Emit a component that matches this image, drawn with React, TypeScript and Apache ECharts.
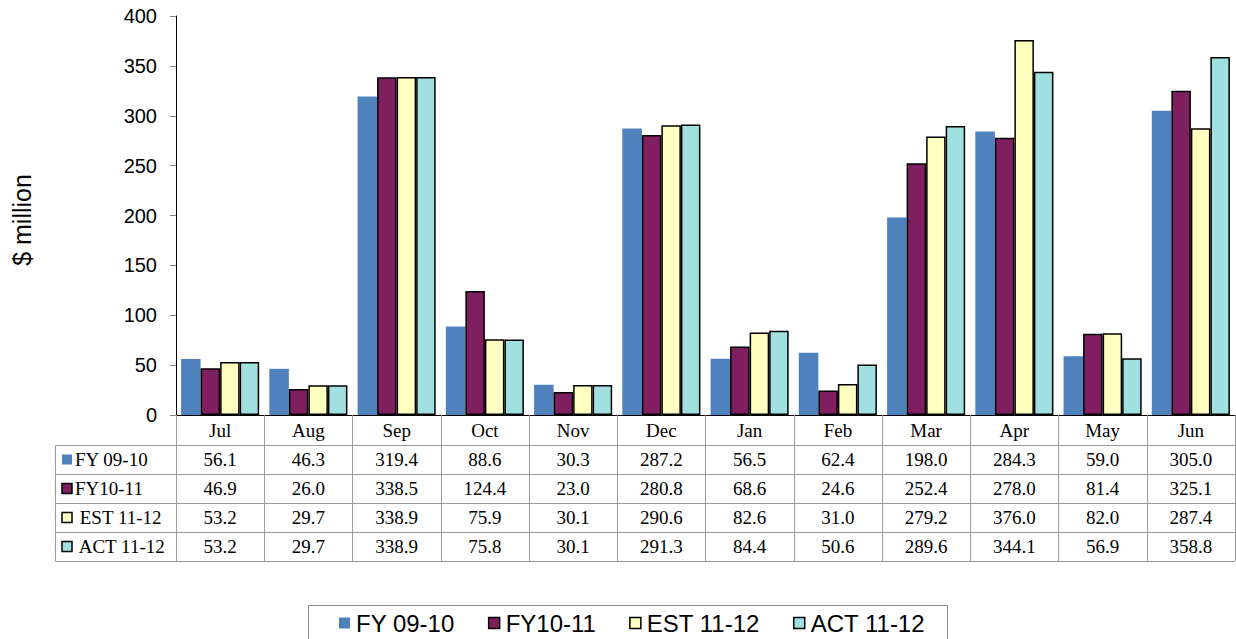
import React, { useEffect, useRef } from "react";
import * as echarts from "echarts";

const categories = ["Jul", "Aug", "Sep", "Oct", "Nov", "Dec", "Jan", "Feb", "Mar", "Apr", "May", "Jun"];
const fy0910 = [56.1, 46.3, 319.4, 88.6, 30.3, 287.2, 56.5, 62.4, 198.0, 284.3, 59.0, 305.0];
const fy1011 = [46.9, 26.0, 338.5, 124.4, 23.0, 280.8, 68.6, 24.6, 252.4, 278.0, 81.4, 325.1];
const est1112 = [53.2, 29.7, 338.9, 75.9, 30.1, 290.6, 82.6, 31.0, 279.2, 376.0, 82.0, 287.4];
const act1112 = [53.2, 29.7, 338.9, 75.8, 30.1, 291.3, 84.4, 50.6, 289.6, 344.1, 56.9, 358.8];
const seriesNames = ["FY 09-10", "FY10-11", "EST 11-12", "ACT 11-12"];
const rowLabels = ["FY 09-10", "FY10-11", " EST 11-12", " ACT 11-12"];
const seriesColors = ["#4F81BD", "#7F1F5F", "#FFFFC0", "#A0E0E0"];
const yMin = 0;
const yMax = 400;
const yInterval = 50;
const yTitle = "$ million";

const allSeries = [fy0910, fy1011, est1112, act1112];

const W = 1236;
const H = 639;
const GRID_LEFT = 176;
const GRID_TOP = 16;
const GRID_RIGHT = 1;
const GRID_BOTTOM = 224;
const TABLE_LEFT = 55.5;
const CAT_ROW_H = 30;
const ROW_H = 29;
const GRID_COLOR = "#9a9a9a";
const SERIF = "'Liberation Serif', 'Times New Roman', serif";
const SANS = "'Liberation Sans', Arial, sans-serif";
const LEGEND_BOX = { x: 308.5, y: 605.5, w: 639, h: 60 };
const LEGEND_FIRST_X = 339;
const LEGEND_LAST_END = 925;
const LEGEND_FONT = 24;
const LEGEND_ICON = 11;
const LEGEND_ICON_GAP = 6;

function measure(text: string, font: string): number {
  const c = document.createElement("canvas").getContext("2d");
  if (!c) return text.length * 12;
  c.font = font;
  return c.measureText(text).width;
}

export default function App() {
  const ref = useRef<HTMLDivElement>(null);
  useEffect(() => {
    if (!ref.current) return;
    const chart = echarts.init(ref.current, null, { renderer: "svg" });
    const option: any = {
      animation: false,
      backgroundColor: "#ffffff",
      grid: { left: GRID_LEFT, top: GRID_TOP, right: GRID_RIGHT, bottom: GRID_BOTTOM, containLabel: false },
      xAxis: {
        type: "category",
        data: categories,
        axisLine: { show: true, lineStyle: { color: "#000", width: 1 } },
        axisTick: { show: true, length: CAT_ROW_H + ROW_H * 4, interval: 0, lineStyle: { color: GRID_COLOR, width: 1 } },
        axisLabel: { fontFamily: SERIF, fontSize: 19, color: "#000", margin: 6, interval: 0 },
        splitLine: { show: false },
      },
      yAxis: {
        type: "value",
        min: yMin,
        max: yMax,
        interval: yInterval,
        axisLine: { show: true, lineStyle: { color: "#000", width: 1 } },
        axisTick: { show: true, length: 6, lineStyle: { color: "#808080" } },
        axisLabel: { fontFamily: SANS, fontSize: 20, color: "#000", margin: 19 },
        splitLine: { show: false },
      },
      series: allSeries.map((d, i) => ({
        name: seriesNames[i],
        type: "bar",
        data: d,
        barGap: "0%",
        barCategoryGap: "11.5%",
        itemStyle: {
          color: seriesColors[i],
          borderColor: i === 0 ? seriesColors[i] : "#000",
          borderWidth: i === 0 ? 0 : 1.5,
        },
      })),
    };
    chart.setOption(option);

    const yBase = chart.convertToPixel({ yAxisIndex: 0 }, 0) as number;
    const right = W - GRID_RIGHT;
    const graphics: any[] = [];
    graphics.push({
      type: "text",
      x: 22,
      y: 220,
      rotation: Math.PI / 2,
      style: { text: yTitle, fontFamily: SANS, fontSize: 25, fill: "#000", align: "center", verticalAlign: "middle" },
    });
    for (let k = 0; k <= 4; k++) {
      const y = Math.round(yBase + CAT_ROW_H + ROW_H * k) + 0.5;
      graphics.push({
        type: "line",
        shape: { x1: TABLE_LEFT, y1: y, x2: right, y2: y },
        style: { stroke: GRID_COLOR, lineWidth: 1 },
      });
    }
    graphics.push({
      type: "line",
      shape: {
        x1: TABLE_LEFT,
        y1: Math.round(yBase + CAT_ROW_H) + 0.5,
        x2: TABLE_LEFT,
        y2: Math.round(yBase + CAT_ROW_H + ROW_H * 4) + 0.5,
      },
      style: { stroke: GRID_COLOR, lineWidth: 1 },
    });
    allSeries.forEach((d, r) => {
      const cy = yBase + CAT_ROW_H + ROW_H * r + ROW_H / 2;
      graphics.push({
        type: "rect",
        shape: { x: 62, y: cy - 5, width: 10, height: 10 },
        style: {
          fill: seriesColors[r],
          stroke: r === 0 ? null : "#000",
          lineWidth: r === 0 ? 0 : 1.5,
        },
      });
      graphics.push({
        type: "text",
        x: 75,
        y: cy,
        style: { text: rowLabels[r], fontFamily: SERIF, fontSize: 19, fill: "#000", align: "left", verticalAlign: "middle" },
      });
      d.forEach((v, c) => {
        const cx = chart.convertToPixel({ xAxisIndex: 0 }, categories[c]) as number;
        graphics.push({
          type: "text",
          x: cx,
          y: cy,
          style: { text: v.toFixed(1), fontFamily: SERIF, fontSize: 19, fill: "#000", align: "center", verticalAlign: "middle" },
        });
      });
    });

    // legend box
    graphics.push({
      type: "rect",
      shape: { x: LEGEND_BOX.x, y: LEGEND_BOX.y, width: LEGEND_BOX.w, height: LEGEND_BOX.h },
      style: { fill: "#fff", stroke: "#8c8c8c", lineWidth: 1 },
    });
    const font = `${LEGEND_FONT}px 'Liberation Sans', Arial, sans-serif`;
    const widths = seriesNames.map((n) => measure(n, font));
    const itemsW = widths.reduce((a, w) => a + LEGEND_ICON + LEGEND_ICON_GAP + w, 0);
    const gap = (LEGEND_LAST_END - LEGEND_FIRST_X - itemsW) / (seriesNames.length - 1);
    const ly = LEGEND_BOX.y + 17.5;
    let lx = LEGEND_FIRST_X;
    seriesNames.forEach((n, i) => {
      graphics.push({
        type: "rect",
        shape: { x: lx, y: ly - LEGEND_ICON / 2, width: LEGEND_ICON, height: LEGEND_ICON },
        style: {
          fill: seriesColors[i],
          stroke: i === 0 ? null : "#000",
          lineWidth: i === 0 ? 0 : 1.5,
        },
      });
      graphics.push({
        type: "text",
        x: lx + LEGEND_ICON + LEGEND_ICON_GAP,
        y: ly,
        style: { text: n, fontFamily: SANS, fontSize: LEGEND_FONT, fill: "#000", align: "left", verticalAlign: "middle" },
      });
      lx += LEGEND_ICON + LEGEND_ICON_GAP + widths[i] + gap;
    });

    chart.setOption({ graphic: graphics });
    return () => chart.dispose();
  }, []);
  return <div ref={ref} style={{ position: "fixed", left: 0, top: 0, width: W, height: H }} />;
}
